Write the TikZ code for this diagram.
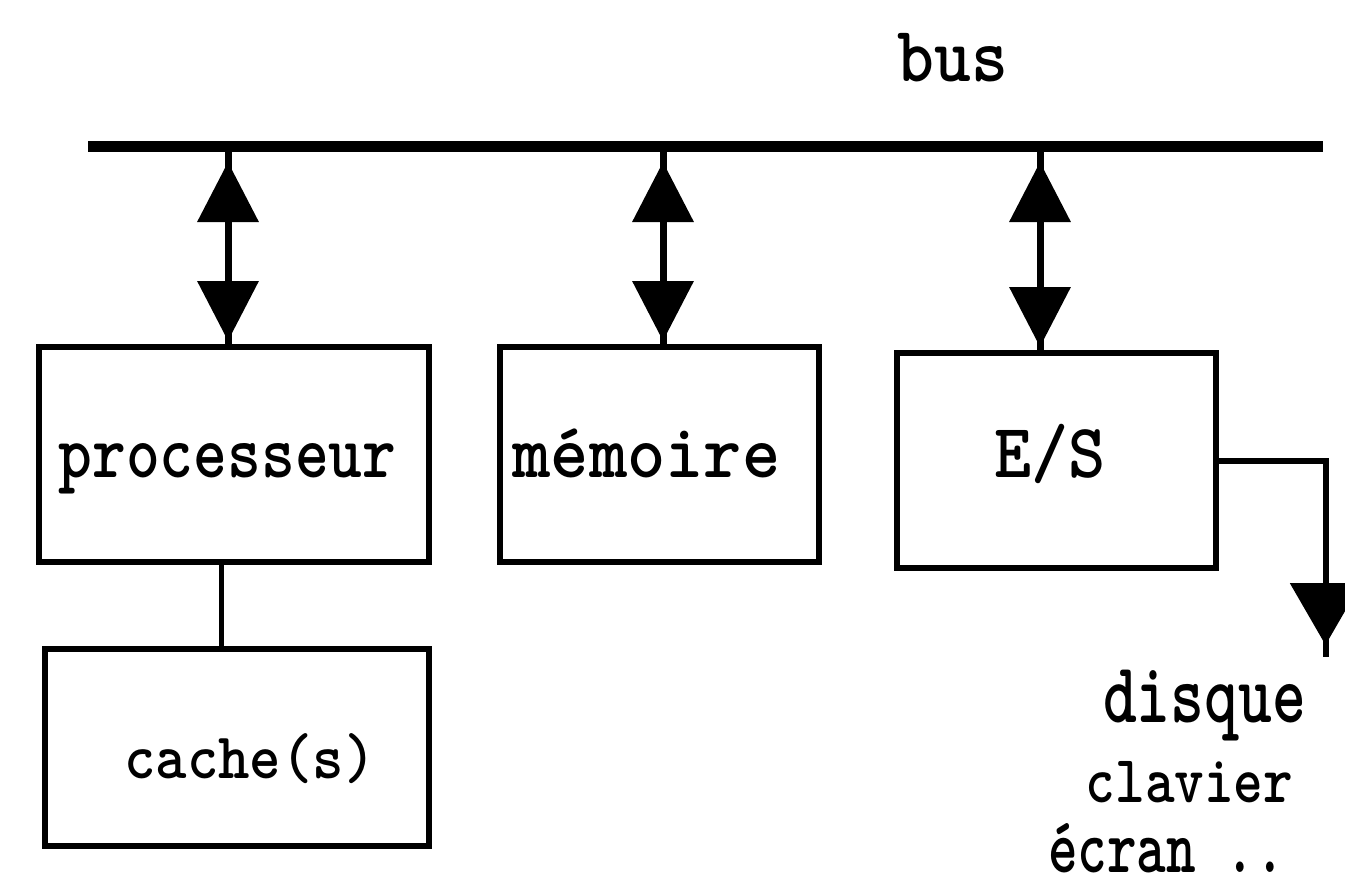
\documentclass[tikz,border=0pt]{standalone}
\usepackage{fontspec}
\usetikzlibrary{arrows.meta}
% size (pt), horizontal squeeze, text
\newcommand\pixtxt[3]{\fontsize{#1}{#1}\selectfont\scalebox{#2}[1]{#3}}

\begin{document}
\begin{tikzpicture}[x=0.5pt,y=-0.5pt,
  box/.style={draw, line width=3pt, inner sep=0pt, outer sep=0pt},
  txt/.style={inner sep=0pt, anchor=base, font=\ttfamily\bfseries},
  busline/.style={line width=5.5pt},
  stem/.style={line width=3.5pt},
  tips/.style={line width=3.5pt,
    {Triangle[length=30pt,width=30pt]}-{Triangle[length=30pt,width=30pt]}},
  wire/.style={line width=3pt},
  link/.style={line width=2.5pt}]

\fill[white] (0,0) rectangle (1345,888);
\useasboundingbox (0,0) rectangle (1345,888);

% the bus
\coordinate (busL) at (88,146.5);
\coordinate (busR) at (1323,146.5);
\draw[busline] (busL) -- (busR);
\node[txt] (bus-t) at (953,82) {\pixtxt{39.4}{0.89}{bus}};

% units attached to the bus
\node[box, minimum width=195pt, minimum height=107.5pt] (proc) at (234,454.5) {};
\node[box, minimum width=159.5pt, minimum height=107.5pt] (mem) at (659.5,454.5) {};
\node[box, minimum width=159.5pt, minimum height=107.5pt] (es) at (1056.5,460.5) {};
\node[box, minimum width=192pt, minimum height=98.5pt] (cache) at (237,747.5) {};

\node[txt] (proc-t) at (227.5,477) {\pixtxt{38.3}{0.84}{processeur}};
\node[txt] (mem-t) at (646.5,477) {\pixtxt{38.3}{0.95}{mémoire}};
\node[txt] (es-t) at (1050,477) {\pixtxt{38.5}{0.92}{E/S}};
\node[txt] (cache-t) at (250,778) {\pixtxt{32.5}{0.92}{cache(s)}};

% bus taps
\coordinate (tp) at (228,146.5);
\coordinate (tm) at (663,146.5);
\coordinate (te) at (1040,146.5);

\foreach \t/\b in {tp/proc, tm/mem, te/es}{
  \draw[stem] (\t) -- (\t |- \b.north);
  \draw[tips, shorten <=7.75pt, shorten >=3pt] (\t) -- (\t |- \b.north);
}

% processor to cache
\draw[link] ([xshift=-6.5pt]proc.south) -- ([xshift=-6.5pt]proc.south |- cache.north);

% peripherals
\coordinate (dev) at (1325.5,657);
\draw[wire] (es.east) -| (dev);
\draw[wire, -{Triangle[length=31pt,width=35pt]}, shorten >=6pt] (es.east) -| (dev);

\node[txt] (disque-t) at (1204.5,722) {\pixtxt{42.9}{0.75}{disque}};
\node[txt] (clavier-t) at (1189.5,802) {\pixtxt{33.6}{0.84}{clavier}};
\node[txt] (ecran-t) at (1166.5,872) {\pixtxt{38.6}{0.73}{écran ..}};
\end{tikzpicture}
\end{document}
